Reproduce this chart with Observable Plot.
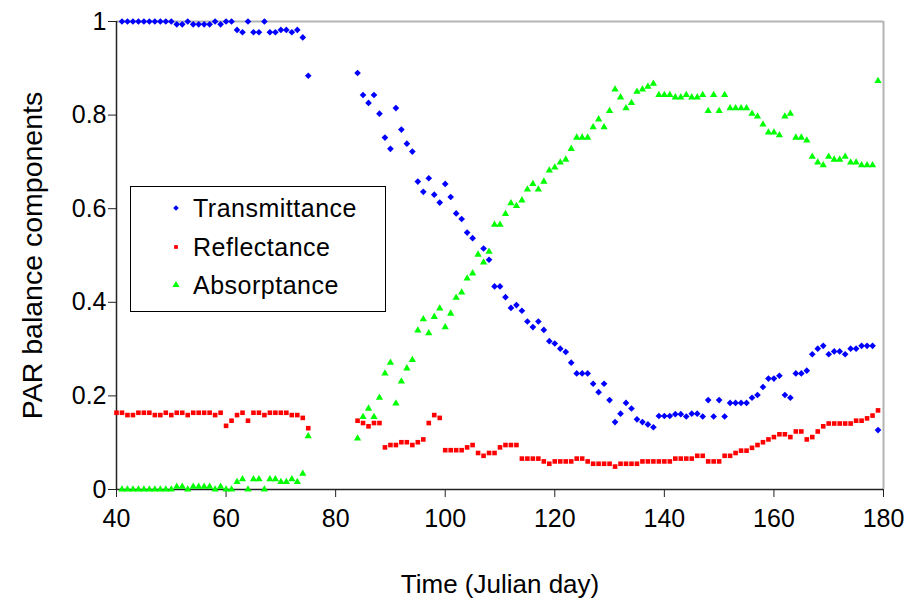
<!DOCTYPE html>
<html>
<head>
<meta charset="utf-8">
<script src="https://cdn.jsdelivr.net/npm/d3@7"></script>
<script src="https://cdn.jsdelivr.net/npm/@observablehq/plot@0.6"></script>
<style>
  html, body { margin: 0; padding: 0; background: #fff; }
  #wrap { position: relative; width: 908px; height: 608px; font-family: "Liberation Sans", Arial, sans-serif; }
  #legend {
    position: absolute; left: 130px; top: 186px; width: 256px; height: 126px;
    border: 1px solid #000; background: #fff; box-sizing: border-box;
  }
  #legend .row { position: absolute; left: 0; height: 30px; display: flex; align-items: center; }
  #legend svg { width: 30px; height: 30px; margin-left: 30px; }
  #legend span { font-size: 25px; color: #000; margin-left: 2px; letter-spacing: 0.5px; }
</style>
</head>
<body>
<div id="wrap"></div>
<script>
// Julian days of the measurements
const days = [
  40, 41, 42, 43, 44, 45, 46, 47, 48, 49, 50, 51, 52, 53, 54, 55, 56, 57, 58, 59,
  60, 61, 62, 63, 64, 65, 66, 67, 68, 69, 70, 71, 72, 73, 74, 75,
  84, 85, 86, 87, 88, 89, 90, 91, 92, 93, 94, 95, 96, 97, 98, 99,
  100, 101, 102, 103, 104, 105, 106, 107, 108, 109, 110, 111, 112, 113, 114, 115, 116, 117, 118, 119,
  120, 121, 122, 123, 124, 125, 126, 127, 128, 129, 130, 131, 132, 133, 134, 135, 136, 137, 138, 139,
  140, 141, 142, 143, 144, 145, 146, 147, 148, 149, 150, 151, 152, 153, 154, 155, 156, 157, 158, 159,
  160, 161, 162, 163, 164, 165, 166, 167, 168, 169, 170, 171, 172, 173, 174, 175, 176, 177, 178, 179
];

// PAR transmittance (null = no measurement)
const transmittance = [
  null, 1, 1, 1, 1, 1, 1, 1, 1, 1, 1, 0.994, 0.994, 1, 0.994, 0.994, 0.994, 0.994, 1, 0.994,
  1, 1, 0.982, 0.977, 1, 0.977, 0.977, 1, 0.977, 0.977, 0.982, 0.982, 0.977, 0.982, 0.966, 0.884,
  0.890, 0.843, 0.826, 0.843, 0.803, 0.752, 0.728, 0.815, 0.769, 0.739, 0.722, 0.658, 0.636, 0.665, 0.630, 0.613,
  0.653, 0.625, 0.590, 0.578, 0.549, 0.537, null, 0.515, 0.491, 0.434, 0.434, 0.411, 0.388, 0.394, 0.382, 0.359, 0.347, 0.359, 0.341, 0.317,
  0.312, 0.301, 0.294, 0.271, 0.248, 0.248, 0.248, 0.226, 0.208, 0.226, 0.191, 0.144, 0.162, 0.185, 0.173, 0.150, 0.144, 0.139, 0.133, 0.157,
  0.157, 0.157, 0.161, 0.161, 0.156, 0.162, 0.162, 0.156, 0.191, 0.156, 0.191, 0.156, 0.185, 0.185, 0.185, 0.185, 0.196, 0.202, 0.219, 0.237,
  0.237, 0.243, 0.202, 0.196, 0.248, 0.248, 0.254, 0.289, 0.301, 0.307, 0.289, 0.295, 0.295, 0.289, 0.301, 0.301, 0.307, 0.307, 0.307, 0.127
];

// PAR reflectance
const reflectance = [
  0.164, 0.164, 0.159, 0.159, 0.164, 0.164, 0.164, 0.159, 0.159, 0.164, 0.159, 0.164, 0.164, 0.159, 0.164, 0.164, 0.164, 0.164, 0.159, 0.164,
  0.136, 0.147, 0.159, 0.164, 0.147, 0.164, 0.164, 0.159, 0.164, 0.164, 0.164, 0.164, 0.159, 0.159, 0.153, 0.131,
  0.147, 0.142, 0.135, 0.142, 0.142, 0.090, 0.095, 0.095, 0.101, 0.101, 0.095, 0.101, 0.107, 0.142, 0.159, 0.153,
  0.084, 0.084, 0.084, 0.084, 0.090, 0.095, 0.078, 0.072, 0.078, 0.078, 0.090, 0.095, 0.095, 0.095, 0.066, 0.066, 0.066, 0.066, 0.060, 0.055,
  0.060, 0.060, 0.060, 0.060, 0.066, 0.066, 0.060, 0.055, 0.055, 0.055, 0.055, 0.049, 0.055, 0.055, 0.055, 0.055, 0.060, 0.060, 0.060, 0.060,
  0.060, 0.060, 0.066, 0.066, 0.066, 0.066, 0.072, 0.072, 0.060, 0.060, 0.060, 0.072, 0.072, 0.078, 0.083, 0.083, 0.089, 0.095, 0.101, 0.107,
  0.112, 0.118, 0.118, 0.112, 0.124, 0.124, 0.107, 0.112, 0.124, 0.135, 0.141, 0.141, 0.141, 0.141, 0.141, 0.147, 0.147, 0.152, 0.158, 0.169
];

// PAR absorptance
const absorptance = [
  null, 0, 0, 0, 0, 0, 0, 0, 0, 0, 0, 0.006, 0.006, 0, 0.006, 0.006, 0.006, 0.006, 0, 0.006,
  0, 0, 0.016, 0.022, 0, 0.022, 0.022, 0, 0.022, 0.022, 0.016, 0.016, 0.022, 0.016, 0.034, 0.114,
  0.109, 0.155, 0.173, 0.155, 0.196, 0.248, 0.271, 0.184, 0.231, 0.259, 0.277, 0.340, 0.364, 0.334, 0.369, 0.387,
  0.347, 0.376, 0.410, 0.421, 0.451, 0.462, 0.502, 0.485, 0.508, 0.566, 0.566, 0.589, 0.612, 0.606, 0.618, 0.641, 0.653, 0.641, 0.658, 0.682,
  0.688, 0.699, 0.705, 0.728, 0.752, 0.752, 0.752, 0.774, 0.791, 0.774, 0.809, 0.855, 0.838, 0.815, 0.826, 0.850, 0.855, 0.861, 0.867, 0.843,
  0.843, 0.843, 0.838, 0.838, 0.843, 0.838, 0.838, 0.843, 0.809, 0.843, 0.809, 0.843, 0.815, 0.815, 0.815, 0.815, 0.803, 0.797, 0.780, 0.763,
  0.763, 0.757, 0.797, 0.803, 0.752, 0.752, 0.746, 0.711, 0.699, 0.693, 0.711, 0.705, 0.705, 0.711, 0.699, 0.699, 0.693, 0.693, 0.693, 0.873
];

const xTicks = [40, 60, 80, 100, 120, 140, 160, 180];
const yTicks = [0, 0.2, 0.4, 0.6, 0.8, 1];

const seriesNames = ["Transmittance", "Reflectance", "Absorptance"];
const seriesColors = ["#0000ff", "#ff0000", "#00ff00"];
const seriesSymbols = ["diamond2", "square", "triangle"];

const rows = (values) => days
  .map((day, i) => ({day, value: values[i]}))
  .filter(d => d.value != null);

const chart = Plot.plot({
  width: 908,
  height: 608,
  marginLeft: 116,
  marginRight: 25,
  marginTop: 21,
  marginBottom: 119,
  style: {fontFamily: "Liberation Sans, Arial, sans-serif", fontSize: "25px", color: "#000", background: "#fff", overflow: "visible"},
  x: {domain: [40, 180]},
  y: {domain: [0, 1]},
  marks: [
    // plot area border: grey top and right, dark left and bottom axis lines
    Plot.ruleY([1], {stroke: "#b4b4b4", strokeWidth: 2}),
    Plot.ruleX([180], {stroke: "#b4b4b4", strokeWidth: 2}),
    Plot.ruleX([40], {stroke: "#222", strokeWidth: 1.5}),
    Plot.ruleY([0], {stroke: "#222", strokeWidth: 1.5}),
    Plot.axisX({ticks: xTicks, tickSize: 8, tickPadding: 12, tickFormat: d => String(d),
      label: "Time (Julian day)", labelAnchor: "center", labelArrow: false, labelOffset: 103, fontSize: 25, stroke: "#222"}),
    Plot.axisY({ticks: yTicks, tickSize: 8, tickPadding: 2, tickFormat: d => String(d),
      label: "PAR balance components", labelAnchor: "center", labelArrow: false, labelOffset: 95, fontSize: 25, stroke: "#222"}),
    Plot.dot(rows(transmittance), {x: "day", y: "value", symbol: seriesSymbols[0], r: 3, fill: seriesColors[0], stroke: "none"}),
    Plot.dot(rows(reflectance), {x: "day", y: "value", symbol: seriesSymbols[1], r: 2.6, fill: seriesColors[1], stroke: "none"}),
    Plot.dot(rows(absorptance), {x: "day", y: "value", symbol: seriesSymbols[2], r: 2.7, fill: seriesColors[2], stroke: "none"})
  ]
});

const wrap = document.getElementById("wrap");
wrap.appendChild(chart);

// axis titles
d3.select(chart).selectAll("[aria-label='x-axis label'] text").style("font-size", "26px");
d3.select(chart).selectAll("[aria-label='y-axis label'] text").style("font-size", "28.5px");

// legend box inside the plot area
const legend = document.createElement("div");
legend.id = "legend";
const rowTops = [6, 45, 83];
seriesNames.forEach((name, i) => {
  const row = document.createElement("div");
  row.className = "row";
  row.style.top = rowTops[i] + "px";
  const size = [20, 14, 22][i];
  const path = d3.symbol(d3["symbol" + ["Diamond2", "Square", "Triangle"][i]], size)();
  row.innerHTML = `<svg viewBox="-15 -15 30 30"><path d="${path}" fill="${seriesColors[i]}"></path></svg><span>${name}</span>`;
  legend.appendChild(row);
});
wrap.appendChild(legend);
</script>
</body>
</html>
